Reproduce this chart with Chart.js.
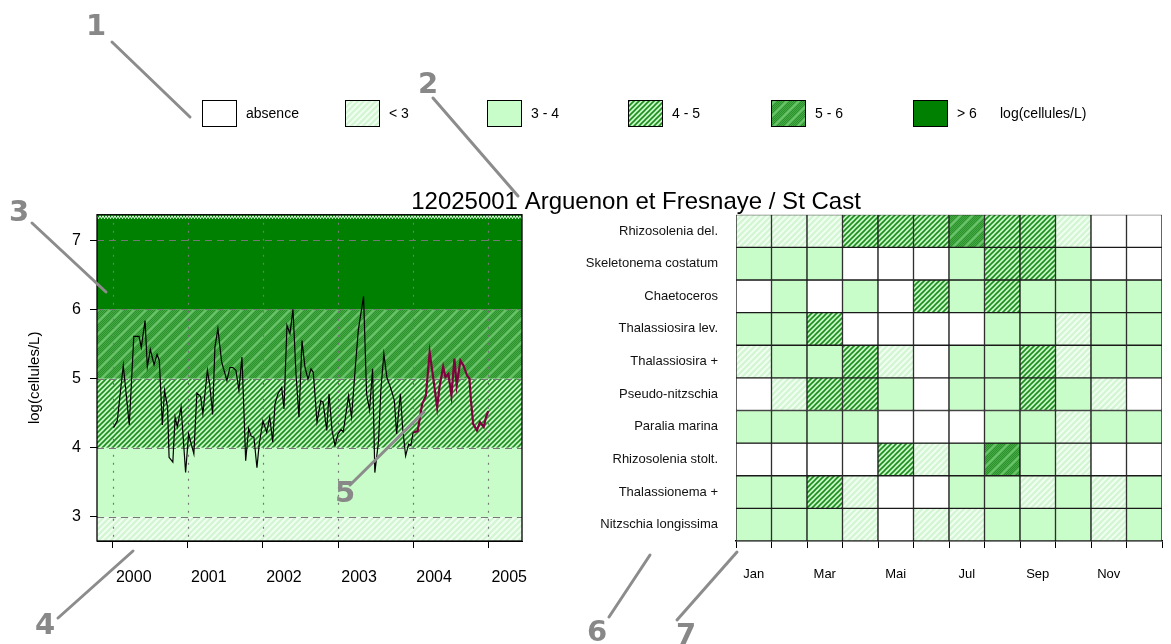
<!DOCTYPE html>
<html>
<head>
<meta charset="utf-8">
<script src="https://cdn.jsdelivr.net/npm/chart.js@4.4.1/dist/chart.umd.min.js"></script>
<style>
html, body { margin: 0; padding: 0; background: #fff; }
#wrap { position: relative; width: 1171px; height: 644px; overflow: hidden; }
canvas { position: absolute; left: 0; top: 0; }
</style>
</head>
<body>
<div id="wrap">
  <canvas id="lineChart" width="1171" height="644" style="width:1171px;height:644px"></canvas>
  <canvas id="heatChart" width="1171" height="644" style="width:1171px;height:644px"></canvas>
</div>
<script>
// ---- data ----
const stationTitle = "12025001 Arguenon et Fresnaye / St Cast";
const unitLabel = "log(cellules/L)";
const classLabels = ["absence", "< 3", "3 - 4", "4 - 5", "5 - 6", "> 6"];
const classBreaks = [3, 4, 5, 6];

const yearTicks = [2000, 2001, 2002, 2003, 2004, 2005];
const yTicks = [3, 4, 5, 6, 7];

// samples 2000-2003 (decimal year, log value)
const pastDates = [
  2000.01, 2000.06, 2000.14, 2000.22, 2000.28, 2000.35, 2000.38, 2000.43, 2000.46, 2000.50, 2000.55,
  2000.59, 2000.62, 2000.66, 2000.69, 2000.73, 2000.75, 2000.80, 2000.83, 2000.86, 2000.91, 2000.97,
  2001.01, 2001.08, 2001.12, 2001.17, 2001.20, 2001.26, 2001.29, 2001.33, 2001.36, 2001.40, 2001.45,
  2001.52, 2001.56, 2001.60, 2001.64, 2001.68, 2001.72, 2001.74, 2001.77, 2001.81, 2001.84, 2001.88,
  2001.92, 2001.95,
  2002.00, 2002.05, 2002.09, 2002.13, 2002.16, 2002.20, 2002.25, 2002.28, 2002.32, 2002.36, 2002.40,
  2002.44, 2002.48, 2002.52, 2002.56, 2002.60, 2002.64, 2002.67, 2002.72, 2002.77, 2002.80, 2002.85,
  2002.88, 2002.92, 2002.96,
  2003.00, 2003.04, 2003.07, 2003.14, 2003.18, 2003.23, 2003.27, 2003.34, 2003.38, 2003.42, 2003.46,
  2003.49, 2003.54, 2003.57, 2003.61, 2003.65, 2003.72, 2003.75, 2003.78, 2003.83, 2003.86, 2003.90,
  2003.94, 2003.97
];
const pastValues = [
  4.29, 4.39, 5.19, 4.33, 5.61, 5.61, 5.45, 5.84, 5.17, 5.42, 5.20,
  5.35, 5.26, 4.33, 4.83, 4.58, 3.86, 3.79, 4.44, 4.30, 4.59, 3.64,
  4.20, 3.91, 4.79, 4.74, 4.49, 5.12, 4.92, 4.48, 5.45, 5.72, 5.24,
  4.97, 5.16, 5.16, 5.12, 4.83, 5.31, 4.73, 3.81, 4.28, 4.17, 4.15,
  3.71, 4.05,
  4.39, 4.22, 4.44, 4.08, 4.63, 4.78, 4.87, 4.56, 5.77, 5.65, 6.00,
  5.07, 4.44, 5.55, 5.16, 4.99, 5.14, 5.09, 4.37, 4.68, 4.66, 4.25,
  4.78, 4.25, 4.03,
  4.20, 4.26, 4.23, 4.75, 4.44, 5.16, 5.70, 6.19, 4.78, 4.54, 5.14,
  3.64, 4.10, 4.83, 5.36, 5.02, 4.80, 4.68, 4.20, 4.78, 4.29, 3.88,
  4.05, 4.03
];
// current year 2004
const yearDates = [
  2004.00, 2004.06, 2004.12, 2004.17, 2004.22, 2004.26, 2004.32, 2004.35, 2004.40, 2004.43, 2004.47,
  2004.51, 2004.55, 2004.58, 2004.63, 2004.67, 2004.72, 2004.75, 2004.77, 2004.80, 2004.85, 2004.89,
  2004.94, 2004.97, 2005.00
];
const yearValues = [
  4.22, 4.24, 4.63, 4.75, 5.38, 5.07, 4.58, 4.87, 5.17, 5.02, 5.07,
  4.75, 5.29, 4.90, 5.26, 5.19, 5.04, 5.00, 4.68, 4.34, 4.25, 4.37,
  4.30, 4.44, 4.53
];

// heatmap: class index per month (0 absence .. 5 > 6)
const months = ["Jan", "Fév", "Mar", "Avr", "Mai", "Jun", "Jul", "Aoû", "Sep", "Oct", "Nov", "Déc"];
const species = [
  "Rhizosolenia del.", "Skeletonema costatum", "Chaetoceros", "Thalassiosira lev.",
  "Thalassiosira +", "Pseudo-nitzschia", "Paralia marina", "Rhizosolenia stolt.",
  "Thalassionema +", "Nitzschia longissima"
];
const rhizoDel    = [1, 1, 1, 3, 3, 3, 4, 3, 3, 1, 0, 0];
const skeletonema = [2, 2, 2, 0, 0, 0, 2, 3, 3, 2, 0, 0];
const chaetoceros = [0, 2, 0, 2, 0, 3, 2, 3, 2, 2, 2, 2];
const thalaLev    = [2, 2, 3, 0, 0, 0, 0, 2, 2, 1, 2, 2];
const thalaPlus   = [1, 2, 2, 3, 1, 0, 2, 2, 3, 1, 2, 2];
const pseudoNitz  = [0, 1, 3, 3, 2, 0, 2, 2, 3, 2, 1, 0];
const paralia     = [2, 2, 2, 2, 0, 0, 0, 2, 2, 1, 2, 2];
const rhizoStolt  = [0, 0, 0, 0, 3, 1, 2, 4, 2, 1, 0, 0];
const thalaNema   = [2, 2, 3, 1, 0, 0, 2, 2, 1, 2, 1, 2];
const nitzLong    = [2, 2, 2, 1, 0, 1, 1, 2, 2, 2, 1, 2];
const cellLevels = [rhizoDel, skeletonema, chaetoceros, thalaLev, thalaPlus,
                    pseudoNitz, paralia, rhizoStolt, thalaNema, nitzLong];

// ---- fills ----
function makePattern(size, bg, draw) {
  const c = document.createElement("canvas");
  c.width = c.height = size;
  const g = c.getContext("2d");
  g.fillStyle = bg;
  g.fillRect(0, 0, size, size);
  if (draw) draw(g, size);
  return g.createPattern(c, "repeat");
}
function diag(g, s, color, w) {
  g.strokeStyle = color;
  g.lineWidth = w;
  g.beginPath();
  g.moveTo(0, s); g.lineTo(s, 0);
  g.moveTo(-s / 2, s / 2); g.lineTo(s / 2, -s / 2);
  g.moveTo(s / 2, s * 1.5); g.lineTo(s * 1.5, s / 2);
  g.stroke();
}
const fills = [
  "#ffffff",
  makePattern(6, "#d4f6d4", (g, s) => diag(g, s, "#f4fff4", 1.6)),
  "#c8fcc8",
  makePattern(5, "#c6f6c6", (g, s) => diag(g, s, "#1c8c1c", 1.6)),
  makePattern(12, "#45aa45", (g, s) => {
    g.fillStyle = "#2c932c";
    for (let i = 0; i < s; i++) for (let j = 0; j < s; j++) if ((i + j) % 2 === 0) g.fillRect(i, j, 1, 1);
    diag(g, s, "rgba(120,205,120,0.8)", 2.2);
  }),
  "#008000"
];

const lineAreaLeft = 97, lineAreaRight = 522, areaTop = 214.7, areaBottom = 541;
const sansFont = "'Liberation Sans', Arial, sans-serif";

// ---- time series ----
const bandPlugin = {
  id: "bands",
  beforeDatasetsDraw(chart) {
    const { ctx, chartArea: a, scales: { x, y } } = chart;
    ctx.save();
    ctx.beginPath();
    ctx.rect(a.left, a.top, a.right - a.left, a.bottom - a.top);
    ctx.clip();
    const edges = [y.min, ...classBreaks, y.max];
    for (let i = 0; i < edges.length - 1; i++) {
      const yt = y.getPixelForValue(edges[i + 1]);
      const yb = y.getPixelForValue(edges[i]);
      ctx.fillStyle = fills[i + 1];
      ctx.fillRect(a.left, yt, a.right - a.left, yb - yt);
    }
    // thin zigzag strip at the top
    ctx.strokeStyle = "#e6ffe6";
    ctx.lineWidth = 1;
    ctx.beginPath();
    for (let px = a.left; px < a.right; px += 3) {
      ctx.moveTo(px, a.top + 1);
      ctx.lineTo(px + 1.5, a.top + 4);
      ctx.lineTo(px + 3, a.top + 1);
    }
    ctx.stroke();
    // grid
    ctx.strokeStyle = "#777";
    ctx.lineWidth = 1.2;
    ctx.setLineDash([7, 5]);
    yTicks.forEach(v => {
      const py = Math.round(y.getPixelForValue(v)) + 0.5;
      ctx.beginPath(); ctx.moveTo(a.left, py); ctx.lineTo(a.right, py); ctx.stroke();
    });
    ctx.setLineDash([2, 6]);
    yearTicks.forEach(v => {
      const px = Math.round(x.getPixelForValue(v)) + 0.5;
      ctx.beginPath(); ctx.moveTo(px, a.top); ctx.lineTo(px, a.bottom); ctx.stroke();
    });
    ctx.restore();
  },
  afterDatasetsDraw(chart) {
    const { ctx, chartArea: a } = chart;
    ctx.save();
    ctx.strokeStyle = "#000";
    ctx.lineWidth = 1.3;
    ctx.strokeRect(a.left, a.top, a.right - a.left, a.bottom - a.top);
    // y axis title
    ctx.fillStyle = "#000";
    ctx.font = "15px " + sansFont;
    ctx.textAlign = "center";
    ctx.textBaseline = "middle";
    ctx.translate(35, (a.top + a.bottom) / 2);
    ctx.rotate(-Math.PI / 2);
    ctx.fillText(unitLabel, 0, 0);
    ctx.restore();
  }
};

const blackPts = pastDates.map((d, i) => ({ x: d, y: pastValues[i] }));
blackPts.push({ x: yearDates[0], y: yearValues[0] });
const redPts = yearDates.map((d, i) => ({ x: d, y: yearValues[i] }));

new Chart(document.getElementById("lineChart"), {
  type: "line",
  data: {
    datasets: [
      { data: blackPts, borderColor: "#000", borderWidth: 1.2, pointRadius: 0, tension: 0 },
      { data: redPts, borderColor: "#800040", borderWidth: 2.2, pointRadius: 0, tension: 0 }
    ]
  },
  options: {
    responsive: false,
    animation: false,
    layout: { padding: { left: 0, top: areaTop, right: 1171 - lineAreaRight, bottom: 0 } },
    plugins: { legend: { display: false }, tooltip: { enabled: false } },
    scales: {
      x: {
        type: "linear", min: 1999.79, max: 2005.45,
        afterBuildTicks: s => { s.ticks = yearTicks.map(v => ({ value: v })); },
        afterFit: s => { s.height = 644 - areaBottom; },
        ticks: { callback: v => String(v), labelOffset: 21, padding: 20, maxRotation: 0,
                 color: "#000", font: { family: sansFont, size: 16 } },
        grid: { drawOnChartArea: false, tickLength: 7, color: "#000" },
        border: { color: "#000" }
      },
      y: {
        min: 2.65, max: 7.37,
        afterBuildTicks: s => { s.ticks = yTicks.map(v => ({ value: v })); },
        afterFit: s => { s.width = lineAreaLeft; },
        ticks: { padding: 9, color: "#000", font: { family: sansFont, size: 16 } },
        grid: { drawOnChartArea: false, tickLength: 7, color: "#000" },
        border: { color: "#000" }
      }
    }
  },
  plugins: [bandPlugin]
});

// ---- heatmap + legend + annotations ----
const legendX = [202, 345, 487, 628, 771, 913];
const notes = [
  { t: "1", x: 96, y: 27, from: [112, 42], to: [190, 117] },
  { t: "2", x: 428, y: 85, from: [433, 98], to: [518, 196] },
  { t: "3", x: 19, y: 213, from: [32, 223], to: [106, 292] },
  { t: "4", x: 45, y: 626, from: [58, 618], to: [133, 551] },
  { t: "5", x: 345, y: 494, from: [350, 485], to: [424, 412] },
  { t: "6", x: 597, y: 633, from: [609, 617], to: [650, 555] },
  { t: "7", x: 686, y: 636, from: [677, 620], to: [737, 552] }
];

const overlayPlugin = {
  id: "overlay",
  afterDraw(chart) {
    const ctx = chart.ctx;
    ctx.save();
    // title
    ctx.fillStyle = "#000";
    ctx.font = "24px " + sansFont;
    ctx.textAlign = "center";
    ctx.textBaseline = "alphabetic";
    ctx.fillText(stationTitle, 636, 209);
    // legend
    ctx.font = "14px " + sansFont;
    ctx.textAlign = "left";
    ctx.textBaseline = "middle";
    classLabels.forEach((lab, i) => {
      const bx = legendX[i];
      ctx.fillStyle = fills[i];
      ctx.fillRect(bx, 100, 35, 27);
      ctx.strokeStyle = "#000";
      ctx.lineWidth = 1;
      ctx.strokeRect(bx + 0.5, 100.5, 34, 26);
      ctx.fillStyle = "#000";
      ctx.fillText(lab, bx + 44, 114);
    });
    ctx.fillText(unitLabel, 1000, 114);
    // annotations
    ctx.strokeStyle = "#8c8c8c";
    ctx.lineWidth = 3;
    ctx.lineCap = "round";
    notes.forEach(n => {
      ctx.beginPath(); ctx.moveTo(n.from[0], n.from[1]); ctx.lineTo(n.to[0], n.to[1]); ctx.stroke();
    });
    ctx.fillStyle = "#888";
    ctx.font = "bold 29px 'DejaVu Sans', sans-serif";
    ctx.textAlign = "center";
    notes.forEach(n => ctx.fillText(n.t, n.x, n.y));
    ctx.restore();
  }
};

new Chart(document.getElementById("heatChart"), {
  type: "bar",
  data: {
    labels: months,
    datasets: species.map((name, r) => ({
      label: name,
      data: cellLevels[r].map(() => [r, r + 1]),
      backgroundColor: cellLevels[r].map(l => fills[l]),
      borderColor: "#1a1a1a",
      borderWidth: 1,
      borderSkipped: false,
      barPercentage: 1,
      categoryPercentage: 1,
      grouped: false
    }))
  },
  options: {
    responsive: false,
    animation: false,
    layout: { padding: { left: 560, top: areaTop, right: 9, bottom: 0 } },
    plugins: { legend: { display: false }, tooltip: { enabled: false } },
    scales: {
      x: {
        afterFit: s => { s.height = 644 - areaBottom; },
        ticks: { autoSkip: false, maxRotation: 0, padding: 19, color: "#000",
                 callback: (v, i) => (i % 2 === 0 ? months[i] : ""),
                 font: { family: sansFont, size: 13 } },
        grid: { offset: true, drawOnChartArea: false, tickLength: 7, color: "#000" },
        border: { color: "#000", width: 1.5 }
      },
      y: {
        min: 0, max: 10, reverse: true,
        afterBuildTicks: s => { s.ticks = species.map((_, i) => ({ value: i + 0.5 })); },
        afterFit: s => { s.width = 176; },
        ticks: { padding: 18, color: "#111", callback: (v, i) => species[i],
                 font: { family: sansFont, size: 13 } },
        grid: { display: false, drawTicks: false },
        border: { display: false }
      }
    }
  },
  plugins: [overlayPlugin]
});
</script>
</body>
</html>
